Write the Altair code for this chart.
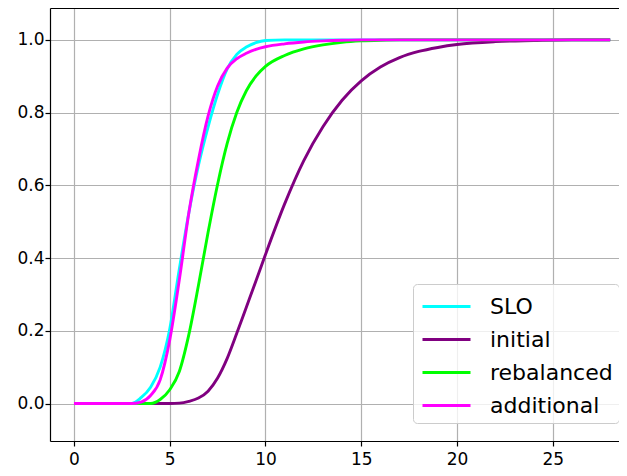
import altair as alt
import pandas as pd

# x positions (shared by all series)
x_vals = [0, 1, 2, 3, 3.5, 4, 4.5, 5, 5.5, 6, 6.5, 7, 7.5, 8, 8.5, 9, 9.5, 10,
          11, 12, 13, 14, 15, 16, 17, 18, 19, 20, 22, 24, 26, 28]

slo = [0, 0, 0, 0.0, 0.016, 0.045, 0.1, 0.205, 0.37, 0.525, 0.655, 0.76, 0.85, 0.92,
       0.96, 0.98, 0.992, 0.998, 1.0, 1.0, 1.0, 1.0, 1.0, 1.0, 1.0, 1.0, 1.0, 1.0, 1.0,
       1.0, 1.0, 1.0]
initial = [0, 0, 0, 0, 0, 0, 0, 0.0, 0.001, 0.006, 0.015, 0.034, 0.07, 0.124, 0.193,
           0.265, 0.337, 0.41, 0.549, 0.668, 0.761, 0.834, 0.887, 0.925, 0.951, 0.968,
           0.979, 0.987, 0.995, 0.998, 1.0, 1.0]
rebalanced = [0, 0, 0, 0, 0, 0.0, 0.011, 0.038, 0.088, 0.19, 0.325, 0.47, 0.603, 0.715,
              0.8, 0.86, 0.9, 0.927, 0.957, 0.975, 0.986, 0.993, 0.997, 0.999, 1.0,
              1.0, 1.0, 1.0, 1.0, 1.0, 1.0, 1.0]
additional = [0, 0, 0, 0.0, 0.004, 0.022, 0.065, 0.175, 0.34, 0.525, 0.67, 0.79, 0.873,
              0.922, 0.948, 0.963, 0.974, 0.981, 0.989, 0.994, 0.997, 0.999, 1.0, 1.0,
              1.0, 1.0, 1.0, 1.0, 1.0, 1.0, 1.0, 1.0]

series_names = ["SLO", "initial", "rebalanced", "additional"]
series_colors = ["#00ffff", "#800080", "#00ff00", "#ff00ff"]
x_ticks = [0, 5, 10, 15, 20, 25]
y_ticks = [0.0, 0.2, 0.4, 0.6, 0.8, 1.0]

rows = []
for name, ys in zip(series_names, [slo, initial, rebalanced, additional]):
    for xv, yv in zip(x_vals, ys):
        rows.append({"x": xv, "y": yv, "series": name})
df = pd.DataFrame(rows)

FONT = "DejaVu Sans"
xscale = alt.Scale(domain=[-1.253, 28.46], nice=False, zero=False)
yscale = alt.Scale(domain=[-0.103, 1.0875], nice=False, zero=False)

x_axis = alt.Axis(values=x_ticks, grid=True, gridColor="#b0b0b0", gridWidth=1.2,
                  domainColor="black", domainWidth=1.2, tickColor="black", tickSize=5,
                  tickWidth=1.2, labelFont=FONT, labelFontSize=17, labelColor="black",
                  labelPadding=5, title=None, labelFlush=False)
y_axis = alt.Axis(values=y_ticks, format=".1f", grid=True, gridColor="#b0b0b0",
                  gridWidth=1.2, domainColor="black", domainWidth=1.2, tickColor="black",
                  tickSize=5, tickWidth=1.2, labelFont=FONT, labelFontSize=17,
                  labelColor="black", labelPadding=1, title=None)
top_axis = alt.Axis(orient="top", labels=False, ticks=False, grid=False, domain=True,
                    domainColor="black", domainWidth=1.2, title=None)

legend = alt.Legend(title=None, orient="none", legendX=363, legendY=276,
                    symbolType="M-1.6,0H1.6", symbolSize=900, symbolStrokeWidth=3,
                    symbolOffset=11,
                    labelFont=FONT, labelFontSize=22, labelColor="black",
                    labelOffset=27, rowPadding=5, padding=6,
                    fillColor="rgba(255,255,255,0.8)", strokeColor="#cccccc",
                    cornerRadius=4)

color = alt.Color("series:N", scale=alt.Scale(domain=series_names, range=series_colors),
                  legend=legend)

layers = []
for i, name in enumerate(series_names):
    layers.append(
        alt.Chart(df)
        .transform_filter(alt.datum.series == name)
        .mark_line(strokeWidth=2.9, interpolate="monotone", clip=True)
        .encode(
            x=alt.X("x:Q", scale=xscale, axis=x_axis if i == 0 else None),
            y=alt.Y("y:Q", scale=yscale, axis=y_axis),
            color=color,
        )
    )

frame = (
    alt.Chart(df)
    .mark_line(opacity=0)
    .encode(
        x=alt.X("x:Q", scale=xscale, axis=top_axis),
        y=alt.Y("y:Q", scale=yscale, axis=y_axis),
    )
)

chart = (
    alt.layer(*layers, frame)
    .resolve_axis(x="independent")
    .properties(width=569, height=433, autosize=alt.AutoSizeParams(type="none"),
                padding={"left": 42, "top": 0, "right": 0, "bottom": 30})
    .configure_view(stroke=None)
)

chart.save("out.html", embed_options={"renderer": "svg", "actions": False})
